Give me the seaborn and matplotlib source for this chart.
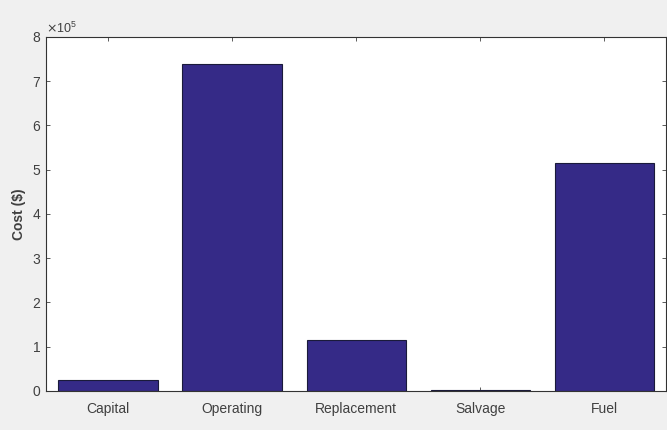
import matplotlib
matplotlib.use("Agg")
import matplotlib.pyplot as plt
import seaborn as sns
import pandas as pd
from matplotlib.ticker import ScalarFormatter

categories = ["Capital", "Operating", "Replacement", "Salvage", "Fuel"]
costs = [25000, 738000, 115000, 1500, 514000]

sns.set_style("ticks")
plt.rcParams['font.family'] = ['Liberation Sans Narrow', 'Liberation Sans', 'DejaVu Sans']

df = pd.DataFrame({"category": categories, "cost": costs})

fig = plt.figure(figsize=(6.67, 4.30), dpi=100, facecolor="#f0f0f0")
ax = fig.add_axes([0.069, 0.091, 0.93, 0.823])
ax.set_facecolor("white")

sns.barplot(data=df, x="category", y="cost", color="#352a87", saturation=1,
            width=0.8, edgecolor="#1a1a3a", linewidth=0.8, ax=ax)

ax.set_xlim(-0.5, 4.5)
ax.set_ylim(0, 800000)
ax.set_yticks([i * 100000 for i in range(9)])
fmt = ScalarFormatter(useMathText=True)
fmt.set_powerlimits((0, 0))
ax.yaxis.set_major_formatter(fmt)
ax.yaxis.get_offset_text().set_fontsize(9)
ax.yaxis.get_offset_text().set_color("#404040")

ax.set_xlabel("")
ax.set_ylabel("Cost ($)", fontsize=10, fontweight="bold", color="#404040", family=['Liberation Sans', 'DejaVu Sans'])
ax.tick_params(axis="both", direction="in", length=3, width=0.6, colors="#404040",
               labelsize=10, top=True, right=True)
ax.tick_params(axis="x", pad=8)
for s in ax.spines.values():
    s.set_visible(True)
    s.set_color("#333333")
    s.set_linewidth(0.8)

fig.savefig("out.png", dpi=100, facecolor=fig.get_facecolor())
